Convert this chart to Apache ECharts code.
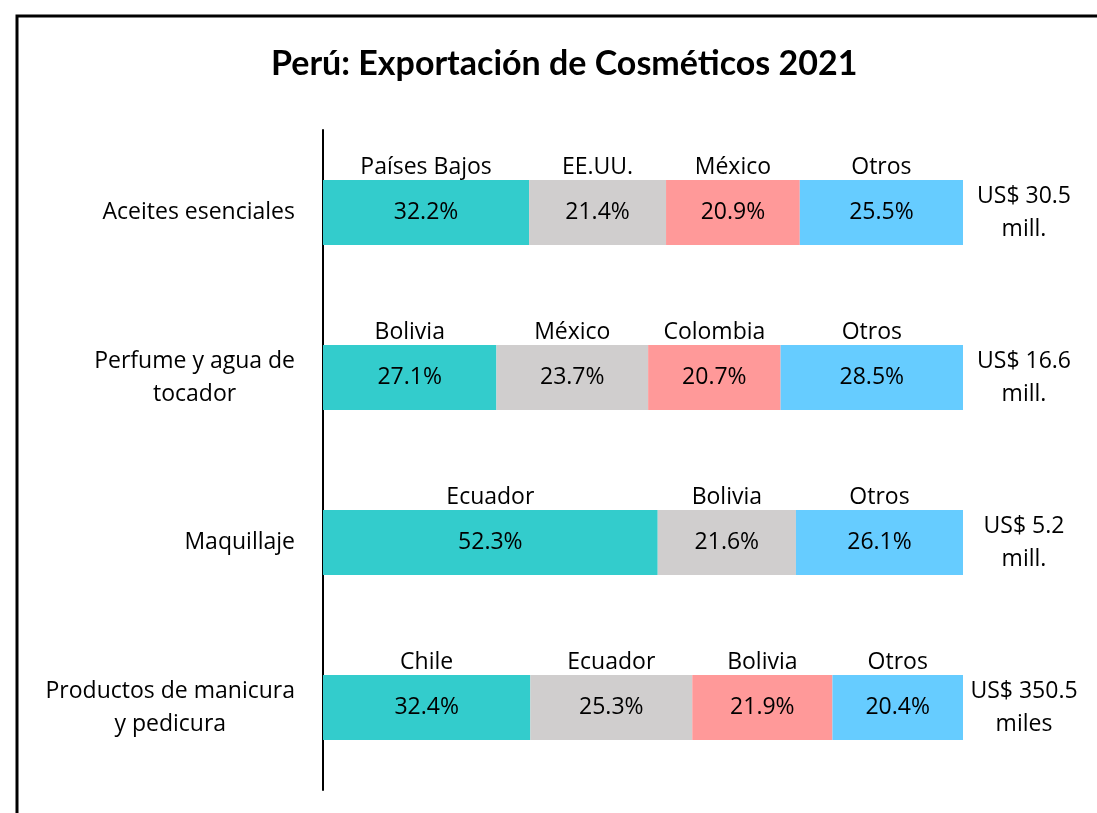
<!DOCTYPE html>
<html lang="es">
<head>
    <meta charset="UTF-8">
    <title>Perú: Exportación de Cosméticos 2021</title>
    <script type="text/javascript" src="https://cdn.jsdelivr.net/npm/echarts@6/dist/echarts.min.js"></script>
</head>
<body style="margin:0;">
<div id="myChart" style="width:1097px;height:813px;"></div>
<script type="text/javascript">
    var productos = ['Aceites esenciales', 'Perfume y agua de\ntocador', 'Maquillaje', 'Productos de manicura\ny pedicura'];
    var totales = ['US$ 30.5\nmill.', 'US$ 16.6\nmill.', 'US$ 5.2\nmill.', 'US$ 350.5\nmiles'];

    // destinos por posición (en orden de izquierda a derecha)
    var pais1 = ['Países Bajos', 'Bolivia', 'Ecuador', 'Chile'];
    var pais2 = ['EE.UU.', 'México', 'Bolivia', 'Ecuador'];
    var pais3 = ['México', 'Colombia', '', 'Bolivia'];
    var pais4 = ['Otros', 'Otros', 'Otros', 'Otros'];

    // participación (%)
    var part1 = [32.2, 27.1, 52.3, 32.4];
    var part2 = [21.4, 23.7, 21.6, 25.3];
    var part3 = [20.9, 20.7, '-', 21.9];
    var part4 = [25.5, 28.5, 26.1, 20.4];

    var colores = ['#33CCCC', '#D0CECE', '#FF9999', '#66CCFF'];
    var fuente = '"Open Sans", "Noto Sans", sans-serif';

    var partes = [part1, part2, part3, part4];
    var paises = [pais1, pais2, pais3, pais4];

    var series = [];
    // barras con porcentaje
    partes.forEach(function (p, i) {
        series.push({
            type: 'bar',
            stack: 'pct',
            barWidth: 65,
            barGap: '-100%',
            itemStyle: {color: colores[i]},
            label: {
                show: true,
                position: 'inside',
                color: '#000',
                fontFamily: fuente,
                fontSize: 23,
                formatter: function (d) { return d.value.toFixed(1) + '%'; }
            },
            data: p
        });
    });
    // barras transparentes para el nombre del país encima
    partes.forEach(function (p, i) {
        series.push({
            type: 'bar',
            stack: 'nombre',
            barWidth: 65,
            barGap: '-100%',
            silent: true,
            itemStyle: {color: 'rgba(0,0,0,0)'},
            label: {
                show: true,
                position: 'top',
                distance: 1,
                color: '#000',
                fontFamily: fuente,
                fontSize: 23,
                formatter: function (d) { return paises[i][d.dataIndex]; }
            },
            data: p
        });
    });

    var myChart = echarts.init(document.getElementById('myChart'));
    var option = {
        backgroundColor: '#fff',
        animation: false,
        title: {
            text: 'Perú: Exportación de Cosméticos 2021',
            left: 266,
            top: 42,
            textStyle: {fontFamily: 'Lato, sans-serif', fontSize: 34, fontWeight: 'bold', color: '#000'}
        },
        graphic: [{
            type: 'rect',
            shape: {x: 17, y: 16, width: 1200, height: 900},
            style: {fill: 'none', stroke: '#000', lineWidth: 3},
            silent: true
        }],
        grid: {left: 323, right: 134, top: 130, bottom: 23},
        xAxis: {type: 'value', min: 0, max: 100, show: false},
        yAxis: [
            {
                type: 'category',
                inverse: true,
                data: productos,
                axisLine: {lineStyle: {color: '#000', width: 2}},
                axisTick: {show: false},
                axisLabel: {
                    margin: 28,
                    formatter: function (v) {
                        return v.split('\n').map(function (s) { return '{c|' + s + '}'; }).join('\n');
                    },
                    rich: {
                        c: {
                            color: '#000',
                            fontFamily: fuente,
                            fontSize: 23,
                            lineHeight: 33,
                            align: 'center'
                        }
                    }
                }
            },
            {
                type: 'category',
                inverse: true,
                position: 'right',
                data: totales,
                axisLine: {show: false},
                axisTick: {show: false},
                axisLabel: {
                    color: '#000',
                    fontFamily: fuente,
                    fontSize: 23,
                    lineHeight: 33,
                    align: 'center',
                    margin: 61
                }
            }
        ],
        series: series
    };
    myChart.setOption(option);
</script>
</body>
</html>
